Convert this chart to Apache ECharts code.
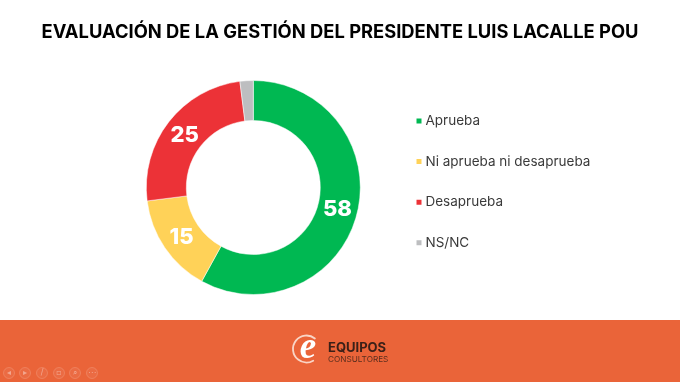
<!DOCTYPE html>
<html><head><meta charset="utf-8">
<style>html,body{margin:0;padding:0;background:#fff}#c{width:680px;height:382px}</style>
<script src="https://cdn.jsdelivr.net/npm/echarts@6/dist/echarts.min.js"></script>
</head><body><div id="c"></div>
<script>
const titleText = 'EVALUACIÓN DE LA GESTIÓN DEL PRESIDENTE LUIS LACALLE POU';
const categories = ['Aprueba','Ni aprueba ni desaprueba','Desaprueba','NS/NC'];
const values = [58,15,25,2];
const colors = ['#00B852','#FFD258','#EC3237','#BDBEC0'];
const labelled = [true,true,true,false];
const toolbarGlyphs = ['◂','▸','/','▫','⌕','⋯'];
const FONT = 'Inter, "Noto Sans", sans-serif';
const chart = echarts.init(document.getElementById('c'),null,{renderer:'canvas'});
const toolbarX = [9,25,42,59,75,92];
const CX = 253.3, CY = 187.5;
chart.setOption({
  animation:false,
  backgroundColor:'#fff',
  title:{text:titleText,left:'center',top:18.5,textStyle:{fontFamily:FONT,fontWeight:700,fontSize:18.35,color:'#000'}},
  legend:{orient:'vertical',left:414.5,top:114,padding:0,itemWidth:7,itemHeight:7,itemGap:26.6,icon:'rect',
    data:categories,selectedMode:false,
    textStyle:{fontFamily:FONT,fontSize:13.5,color:'#3a3a3a',padding:[0,0,0,-2],height:14,lineHeight:14}},
  series:[{type:'pie',center:[CX,CY],radius:[67,107],startAngle:90,clockwise:true,
    silent:true,
    data:categories.map((n,i)=>({name:n,value:values[i],
      itemStyle:{color:colors[i]},
      label:{show:labelled[i]}})),
    itemStyle:{borderColor:'#fff',borderWidth:0.5},
    label:{position:'inner',formatter:'{c}',color:'#fff',fontFamily:FONT,fontWeight:800,fontSize:22},
    labelLayout:function(p){
      const r=p.labelRect, x=r.x+r.width/2-CX, y=r.y+r.height/2-CY, d=Math.hypot(x,y)||1;
      return {dx:-3.2*x/d, dy:-3.2*y/d+0.8};
    },
    labelLine:{show:false}}],
  graphic:[
    {type:'rect',z:-1,shape:{x:0,y:320,width:680,height:62},style:{fill:'#EA6439'}},
    {type:'arc',shape:{cx:306.5,cy:349,r:13.5,startAngle:-0.9,endAngle:1.05,clockwise:false},style:{fill:'none',stroke:'#F9D5C6',lineWidth:1.8,lineCap:'round'}},
    {type:'text',x:308,y:348,style:{text:'e',fill:'#fff',font:'italic bold 37px "Liberation Serif", serif',align:'center',verticalAlign:'middle'}},
    {type:'text',x:328,y:342,style:{text:'EQUIPOS',fill:'#3B2018',font:'bold 13px '+FONT,verticalAlign:'top'}},
    {type:'text',x:328,y:355.5,style:{text:'CONSULTORES',fill:'#5A2E1E',font:'8.2px '+FONT,verticalAlign:'top'}},
    ...toolbarX.map(x=>({type:'circle',shape:{cx:x,cy:373,r:5.5},style:{fill:'rgba(255,255,255,0.05)',stroke:'rgba(255,255,255,0.16)',lineWidth:1}})),
    ...toolbarX.map((x,i)=>({type:'text',x:x,y:373,style:{text:toolbarGlyphs[i],fill:'rgba(255,255,255,0.4)',font:'8px "DejaVu Sans"',align:'center',verticalAlign:'middle'}}))
  ]
});
</script></body></html>
